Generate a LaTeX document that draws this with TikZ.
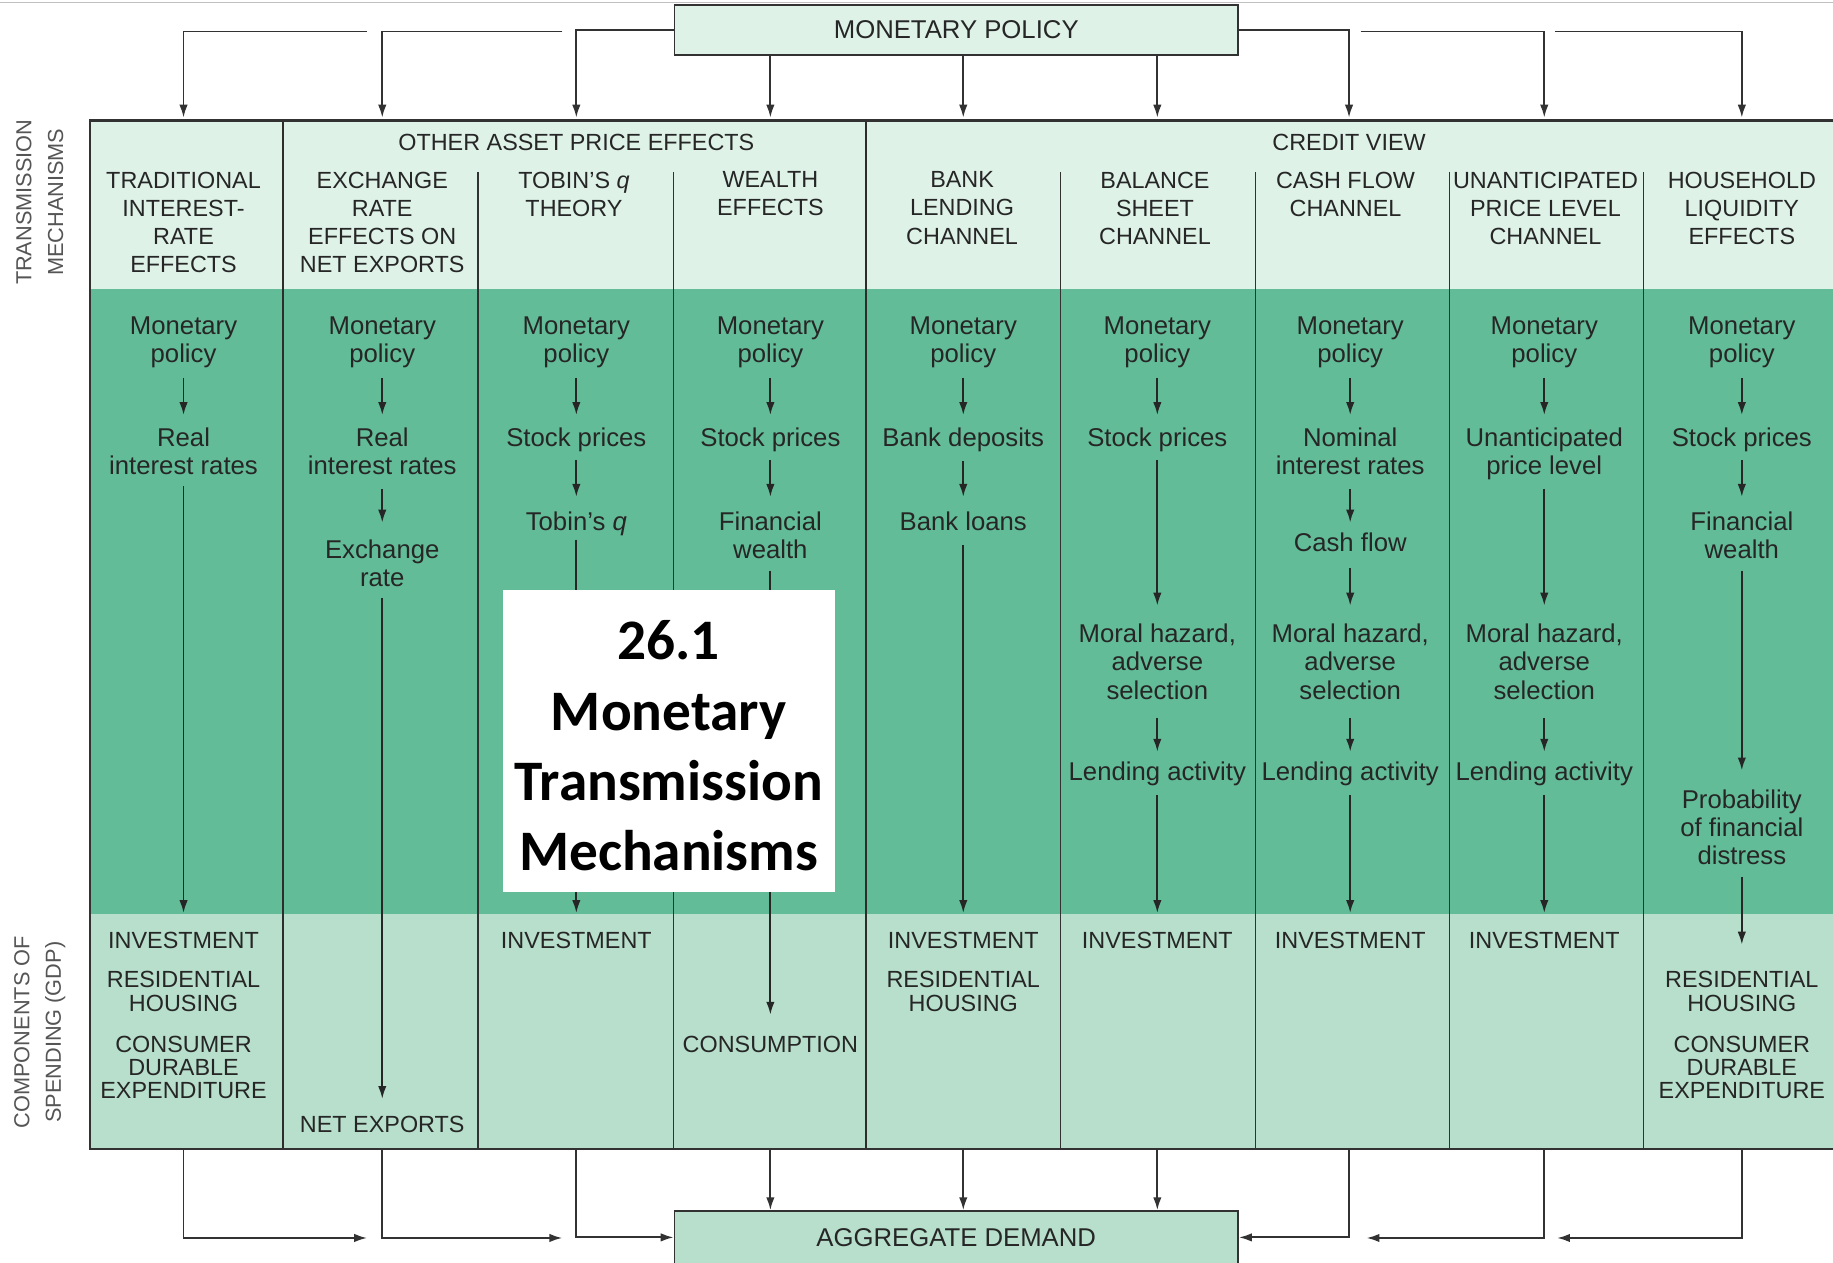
\documentclass[tikz,border=0pt]{standalone}
\usepackage{fontspec}
\setmainfont{Liberation Sans}
\newfontfamily\titlefont{Carlito}
\usetikzlibrary{arrows.meta,calc}
\definecolor{hdr}{RGB}{222,242,232}
\definecolor{midg}{RGB}{98,188,152}
\definecolor{botg}{RGB}{183,223,204}
\definecolor{ink}{RGB}{38,38,38}
\definecolor{rulec}{RGB}{50,50,50}
\definecolor{sidec}{RGB}{85,85,85}
\begin{document}
\begin{tikzpicture}[x=0.5pt,y=-0.5pt,
  capt/.style={inner sep=0pt,outer sep=0pt,anchor=north,align=center,text=ink,font=\fontsize{10}{12}\selectfont},
  capb/.style={capt,font=\fontsize{10}{10}\selectfont},
  mtxt/.style={inner sep=0pt,outer sep=0pt,anchor=north,align=center,text=ink,font=\fontsize{11}{12}\selectfont},
  sidelbl/.style={rotate=90,align=center,text=sidec,inner sep=0pt,font=\fontsize{9.3}{13.5}\selectfont},
  arr/.style={draw=ink,line width=0.8pt,-{Latex[length=5.5pt,width=3.6pt]}},
  conn/.style={draw=rulec,line width=0.8pt,-{Latex[length=5.5pt,width=3.6pt]}},
  endbox/.style={draw=rulec,line width=0.8pt,minimum width=241pt,inner sep=0pt,text=ink,font=\fontsize{11}{12}\selectfont},
  thinrule/.style={draw=rulec,line width=0.55pt},
  thickrule/.style={draw=rulec!90!black,line width=1.05pt},
  sa/.style={shorten <=#1},
  sb/.style={shorten >=#1}]
\clip (0,0) rectangle (1568,1080);
\fill[white] (0,0) rectangle (1568,1080);
\draw[black!25,line width=0.5pt] (0,2) -- (1568,2);

% bands
\fill[hdr] (77,103) rectangle (1580,247);
\fill[midg] (77,247) rectangle (1580,782);
\fill[botg] (77,782) rectangle (1580,983);
\foreach \xx in {409,576,907,1074,1240,1406} {\draw[thinrule] (\xx,147) -- (\xx,983);}
\foreach \xx in {242,741} {\draw[thickrule] (\xx,103) -- (\xx,983);}
\draw[rulec,line width=1.1pt] (1580,103) -- (77,103) -- (77,983) -- (1580,983);

% side labels
\node[sidelbl] (sideT) at (34,173) {TRANSMISSION\\MECHANISMS};
\node[sidelbl] (sideB) at (34,883) {COMPONENTS OF\\SPENDING (GDP)};

% end boxes
\node[endbox,fill=hdr,minimum height=21.5pt] (mp) at (818,25.5) {MONETARY POLICY};
\node[endbox,fill=botg,minimum height=22.5pt] (ad) at (818,1058.5) {AGGREGATE DEMAND};

% header texts
\node[capt] (g1) at (493,115) {OTHER ASSET PRICE EFFECTS};
\node[capt] (g2) at (1154,115) {CREDIT VIEW};
\node[capt] (h1) at (157,147) {TRADITIONAL\\INTEREST-\\RATE\\EFFECTS};
\node[capt] (h2) at (327,147) {EXCHANGE\\RATE\\EFFECTS ON\\NET EXPORTS};
\node[capt] (h3) at (491,147) {TOBIN'S \textit{q}\\THEORY};
\node[capt] (h4) at (659,147) {WEALTH\\EFFECTS};
\node[capt] (h5) at (823,147) {BANK\\LENDING\\CHANNEL};
\node[capt] (h6) at (988,147) {BALANCE\\SHEET\\CHANNEL};
\node[capt] (h7) at (1151,147) {CASH FLOW\\CHANNEL};
\node[capt] (h8) at (1322,147) {UNANTICIPATED\\PRICE LEVEL\\CHANNEL};
\node[capt] (h9) at (1490,147) {HOUSEHOLD\\LIQUIDITY\\EFFECTS};

% column 1
\node[mtxt] (a1) at (157,271) {Monetary\\policy};
\node[mtxt] (b1) at (157,366) {Real\\interest rates};
\node[capb] (z1a) at (157,797) {INVESTMENT};
\node[capb] (z1b) at (157,831) {RESIDENTIAL\\HOUSING};
\node[capb] (z1c) at (157,886) {CONSUMER\\DURABLE\\EXPENDITURE};
\draw[arr,sa=4.2pt,sb=5.5pt] (a1) -- (b1);
\draw[arr,sa=5pt,sb=8pt] (b1) -- (z1a);

% column 2
\node[mtxt] (a2) at (327,271) {Monetary\\policy};
\node[mtxt] (b2) at (327,366) {Real\\interest rates};
\node[mtxt] (c2) at (327,462) {Exchange\\rate};
\node[capb] (z2) at (327,955) {NET EXPORTS};
\draw[arr,sa=4.2pt,sb=5.5pt] (a2) -- (b2);
\draw[arr,sa=6pt,sb=7.5pt] (b2) -- (c2);
\draw[arr,sa=4.5pt,sb=7.5pt] (c2) -- (z2);

% column 3
\node[mtxt] (a3) at (493,271) {Monetary\\policy};
\node[mtxt] (b3) at (493,366) {Stock prices};
\node[mtxt] (c3) at (493,438) {Tobin's \textit{q}};
\node[capb] (z3) at (493,797) {INVESTMENT};
\draw[arr,sa=4.2pt,sb=5.5pt] (a3) -- (b3);
\draw[arr,sa=3.7pt,sb=6.5pt] (b3) -- (c3);
\draw[arr,sa=1.5pt,sb=8pt] (c3) -- (z3);

% column 4
\node[mtxt] (a4) at (659,271) {Monetary\\policy};
\node[mtxt] (b4) at (659,366) {Stock prices};
\node[mtxt] (c4) at (659,438) {Financial\\wealth};
\node[capb] (z4) at (659,886) {CONSUMPTION};
\draw[arr,sa=4.2pt,sb=5.5pt] (a4) -- (b4);
\draw[arr,sa=3.7pt,sb=6.5pt] (b4) -- (c4);
\draw[arr,sa=5pt,sb=9pt] (c4) -- (z4);

% column 5
\node[mtxt] (a5) at (824,271) {Monetary\\policy};
\node[mtxt] (b5) at (824,366) {Bank deposits};
\node[mtxt] (c5) at (824,438) {Bank loans};
\node[capb] (z5a) at (824,797) {INVESTMENT};
\node[capb] (z5b) at (824,831) {RESIDENTIAL\\HOUSING};
\draw[arr,sa=4.2pt,sb=5.5pt] (a5) -- (b5);
\draw[arr,sa=4pt,sb=6.5pt] (b5) -- (c5);
\draw[arr,sa=6pt,sb=8pt] (c5) -- (z5a);

% column 6
\node[mtxt] (a6) at (990,271) {Monetary\\policy};
\node[mtxt] (b6) at (990,366) {Stock prices};
\node[mtxt] (c6) at (990,534) {Moral hazard,\\adverse\\selection};
\node[mtxt] (d6) at (990,652) {Lending activity};
\node[capb] (z6) at (990,797) {INVESTMENT};
\draw[arr,sa=4.2pt,sb=5.5pt] (a6) -- (b6);
\draw[arr,sa=3.7pt,sb=8pt] (b6) -- (c6);
\draw[arr,sa=8pt,sb=4.5pt] (c6) -- (d6);
\draw[arr,sa=3.7pt,sb=8pt] (d6) -- (z6);

% column 7
\node[mtxt] (a7) at (1155,271) {Monetary\\policy};
\node[mtxt] (b7) at (1155,366) {Nominal\\interest rates};
\node[mtxt] (c7) at (1155,456) {Cash flow};
\node[mtxt] (d7) at (1155,534) {Moral hazard,\\adverse\\selection};
\node[mtxt] (e7) at (1155,652) {Lending activity};
\node[capb] (z7) at (1155,797) {INVESTMENT};
\draw[arr,sa=4.2pt,sb=5.5pt] (a7) -- (b7);
\draw[arr,sa=6pt,sb=4.5pt] (b7) -- (c7);
\draw[arr,sa=7pt,sb=8pt] (c7) -- (d7);
\draw[arr,sa=8pt,sb=4.5pt] (d7) -- (e7);
\draw[arr,sa=3.7pt,sb=8pt] (e7) -- (z7);

% column 8
\node[mtxt] (a8) at (1321,271) {Monetary\\policy};
\node[mtxt] (b8) at (1321,366) {Unanticipated\\price level};
\node[mtxt] (c8) at (1321,534) {Moral hazard,\\adverse\\selection};
\node[mtxt] (d8) at (1321,652) {Lending activity};
\node[capb] (z8) at (1321,797) {INVESTMENT};
\draw[arr,sa=4.2pt,sb=5.5pt] (a8) -- (b8);
\draw[arr,sa=3.7pt,sb=8pt] (b8) -- (c8);
\draw[arr,sa=8pt,sb=4.5pt] (c8) -- (d8);
\draw[arr,sa=3.7pt,sb=8pt] (d8) -- (z8);

% column 9
\node[mtxt] (a9) at (1490,271) {Monetary\\policy};
\node[mtxt] (b9) at (1490,366) {Stock prices};
\node[mtxt] (c9) at (1490,438) {Financial\\wealth};
\node[mtxt] (d9) at (1490,676) {Probability\\of financial\\distress};
\node[capb] (z9a) at (1490,831) {RESIDENTIAL\\HOUSING};
\node[capb] (z9b) at (1490,886) {CONSUMER\\DURABLE\\EXPENDITURE};
\draw[arr,sa=4.2pt,sb=5.5pt] (a9) -- (b9);
\draw[arr,sa=3.7pt,sb=6.5pt] (b9) -- (c9);
\draw[arr,sa=5pt,sb=8.5pt] (c9) -- (d9);
\draw[arr,sa=5pt,sb=11.5pt] (d9) -- (z9a);

% connectors from monetary policy
\foreach \i/\xx in {1/157,2/327,3/493,4/659,5/824,6/990,7/1154,8/1321,9/1490} {
  \coordinate (t\i) at (\xx,103);
  \coordinate (u\i) at (\xx,983);
}
\coordinate (s1) at (314,27);
\coordinate (s2) at (481,27);
\coordinate (s8) at (1164,27);
\coordinate (s9) at (1330,27);
\draw[conn,sb=1.2pt] (s1) -| (t1);
\draw[conn,sb=1.2pt] (s2) -| (t2);
\draw[conn,sb=1.2pt] (mp.west) -| (t3);
\draw[conn,sb=1.2pt] (mp.south -| t4) -- (t4);
\draw[conn,sb=1.2pt] (mp.south -| t5) -- (t5);
\draw[conn,sb=1.2pt] (mp.south -| t6) -- (t6);
\draw[conn,sb=1.2pt] (mp.east) -| (t7);
\draw[conn,sb=1.2pt] (s8) -| (t8);
\draw[conn,sb=1.2pt] (s9) -| (t9);

% connectors to aggregate demand
\coordinate (v1) at (314,1059);
\coordinate (v2) at (481,1059);
\coordinate (v8) at (1169,1059);
\coordinate (v9) at (1332,1059);
\draw[conn] (u1) |- (v1);
\draw[conn] (u2) |- (v2);
\draw[conn] (u3) |- (ad.west);
\draw[conn] (u4) -- (u4 |- ad.north);
\draw[conn] (u5) -- (u5 |- ad.north);
\draw[conn] (u6) -- (u6 |- ad.north);
\draw[conn] (u7) |- (ad.east);
\draw[conn] (u8) |- (v8);
\draw[conn] (u9) |- (v9);

% title overlay
\node[fill=white,inner sep=0pt,minimum width=142pt,minimum height=129pt] (ttlbox) at (572,634) {};
\node[align=center,inner sep=0pt,font=\titlefont\bfseries\fontsize{24.5}{30}\selectfont,text=black] (ttl) at (572,638) {26.1\\Monetary\\Transmission\\Mechanisms};
\end{tikzpicture}
\end{document}
